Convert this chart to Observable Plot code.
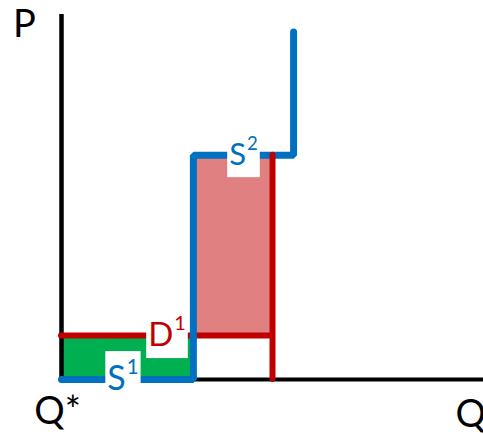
<!DOCTYPE html>
<html>
<head>
<meta charset="utf-8">
<script src="https://cdn.jsdelivr.net/npm/d3@7"></script>
<script src="https://cdn.jsdelivr.net/npm/@observablehq/plot@0.6"></script>
<style>
  html, body { margin: 0; padding: 0; background: #fff; }
  svg { display: block; }
</style>
</head>
<body>
<div id="chart"></div>
<script>
// Stepped supply curve: cheap block S¹ up to Q = 5, dear block S² up to Q = 8.8
const supplyQ = [0, 5, 5, 8.8, 8.8];
const supplyP = [0, 0, 5.1, 5.1, 7.9];

// Flat demand D¹ at price 1, cut off at quantity 8
const demandPrice = [1];
const demandQty = [8];

// Axis extents
const qMax = [16];
const pMax = [8.3];

// Curve labels (letter, superscript, position on the curve)
const curveNames = ["S", "S", "D"];
const curveSups = ["1", "2", "1"];
const curveQ = [2.33, 6.9, 4];
const curveP = [0, 5.1, 1];

// Axis titles
const axisNames = ["P", "Q*", "Q"];

const BLUE = "#0070C0", RED = "#C00000", GREEN = "#00B050", PINK = "#E08080";

const cheapBlock = [{x1: supplyQ[0], x2: supplyQ[1], y1: supplyP[0], y2: demandPrice[0]}];
const dearBlock = [{x1: supplyQ[2], x2: demandQty[0], y1: demandPrice[0], y2: supplyP[2]}];
const supply = supplyQ.map((q, i) => ({q, p: supplyP[i]}));
const labels = curveNames.map((name, i) => ({name, sup: curveSups[i], q: curveQ[i], p: curveP[i]}));

const chart = Plot.plot({
  width: 483,
  height: 434,
  marginLeft: 61,
  marginRight: 0,
  marginTop: 14,
  marginBottom: 55,
  x: {domain: [0, qMax[0]], axis: null},
  y: {domain: [0, pMax[0]], axis: null},
  style: {fontFamily: "Lato, 'Open Sans', sans-serif", background: "white"},
  marks: [
    // shaded surplus areas
    Plot.rect(cheapBlock, {x1: "x1", x2: "x2", y1: "y1", y2: "y2", fill: GREEN}),
    Plot.rect(dearBlock, {x1: "x1", x2: "x2", y1: "y1", y2: "y2", fill: PINK}),
    // axes
    Plot.ruleX([0], {y1: 0, y2: pMax[0], stroke: "black", strokeWidth: 4.5}),
    Plot.ruleY([0], {x1: 0, x2: qMax[0], stroke: "black", strokeWidth: 4}),
    // demand price line
    Plot.ruleY(demandPrice, {x1: 0, x2: demandQty[0], stroke: RED, strokeWidth: 6, strokeLinecap: "round"}),
    // supply steps
    Plot.line(supply, {x: "q", y: "p", stroke: BLUE, strokeWidth: 7, strokeLinecap: "round", strokeLinejoin: "miter", curve: "linear"}),
    // demand cut-off
    Plot.ruleX(demandQty, {y1: 0, y2: supplyP[2], stroke: RED, strokeWidth: 6, strokeLinecap: "round"}),
    // curve labels
    Plot.text(labels, {
      x: "q", y: "p", text: "name",
      fill: (d) => d.name === "D" ? RED : BLUE,
      fontSize: (d, i) => [34, 31, 33][i],
      textAnchor: "middle", lineAnchor: "middle"
    }),
    // axis titles
    Plot.text([axisNames[0]], {x: 0, y: pMax[0], text: (d) => d, fill: "black", fontSize: 38, textAnchor: "middle", lineAnchor: "top", dx: -37, dy: -4}),
    Plot.text([axisNames[1]], {x: 0, y: 0, text: (d) => d, fill: "black", fontSize: 38, textAnchor: "middle", lineAnchor: "top", dx: -4, dy: 18}),
    Plot.text([axisNames[2]], {x: qMax[0], y: 0, text: (d) => d, fill: "black", fontSize: 38, textAnchor: "start", lineAnchor: "top", dx: -28, dy: 21})
  ]
});

document.getElementById("chart").append(chart);

// Add superscripts to the curve labels and set each on a white box
const svgNS = "http://www.w3.org/2000/svg";
const labelGroup = chart.querySelectorAll('g[aria-label="text"]')[0];
labelGroup.querySelectorAll("text").forEach((t, i) => {
  const size = parseFloat(getComputedStyle(t).fontSize);
  const ts = document.createElementNS(svgNS, "tspan");
  ts.setAttribute("dy", -0.48 * size);
  ts.setAttribute("dx", 1);
  ts.setAttribute("font-size", 0.6 * size);
  ts.textContent = labels[i].sup;
  t.appendChild(ts);
  const bb = t.getBBox();
  const box = document.createElementNS(svgNS, "rect");
  box.setAttribute("x", bb.x - 2);
  box.setAttribute("y", bb.y - 3);
  box.setAttribute("width", bb.width + 4);
  box.setAttribute("height", bb.height + 8);
  box.setAttribute("fill", "white");
  const tr = t.getAttribute("transform");
  if (tr) box.setAttribute("transform", tr);
  labelGroup.insertBefore(box, t);
});
</script>
</body>
</html>
